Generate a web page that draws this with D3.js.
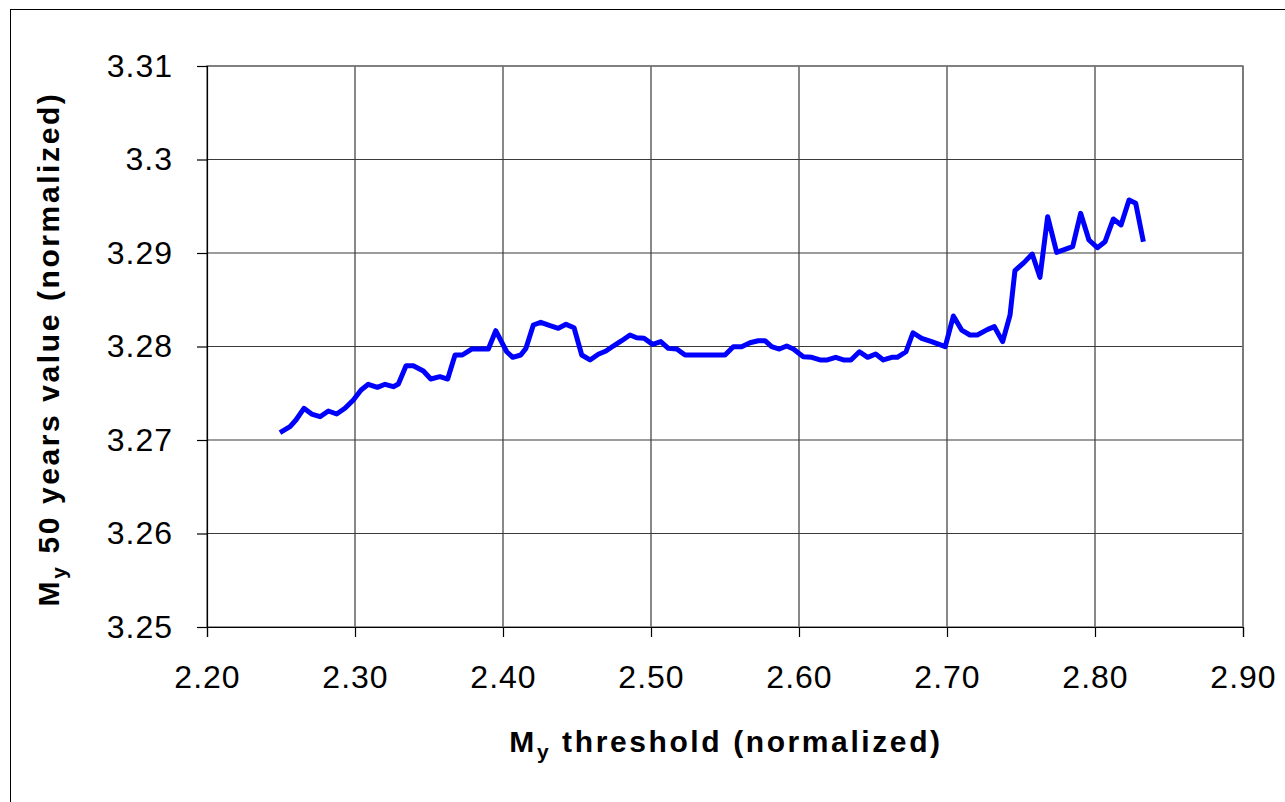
<!DOCTYPE html>
<html>
<head>
<meta charset="utf-8">
<script src="https://cdn.jsdelivr.net/npm/d3@7"></script>
<style>
  body { margin: 0; background: #fff; }
  text { font-family: "Liberation Sans", Arial, sans-serif; }
</style>
</head>
<body>
<script>
// data
const thresholds = [2.2493, 2.2561, 2.2601, 2.2655, 2.2707, 2.2764, 2.2820, 2.2876, 2.2932, 2.2989,
  2.3041, 2.3090, 2.3151, 2.3203, 2.3259, 2.3293, 2.3345, 2.3394, 2.3462, 2.3512,
  2.3574, 2.3626, 2.3676, 2.3725, 2.3788, 2.3901, 2.3951, 2.4025, 2.4066, 2.4120,
  2.4155, 2.4205, 2.4255, 2.4318, 2.4374, 2.4426, 2.4480, 2.4532, 2.4588, 2.4644,
  2.4696, 2.4745, 2.4802, 2.4858, 2.4903, 2.4953, 2.5011, 2.5066, 2.5117, 2.5174,
  2.5230, 2.5500, 2.5556, 2.5612, 2.5669, 2.5725, 2.5770, 2.5815, 2.5867, 2.5917,
  2.5962, 2.6029, 2.6086, 2.6142, 2.6191, 2.6248, 2.6300, 2.6351, 2.6408, 2.6464,
  2.6518, 2.6570, 2.6626, 2.6664, 2.6723, 2.6770, 2.6829, 2.6896, 2.6988, 2.7043,
  2.7099, 2.7155, 2.7205, 2.7272, 2.7320, 2.7376, 2.7426, 2.7459, 2.7520, 2.7576,
  2.7628, 2.7680, 2.7741, 2.7797, 2.7849, 2.7903, 2.7959, 2.8016, 2.8068, 2.8124,
  2.8176, 2.8230, 2.8275, 2.8327];
const values50 = [3.27078, 3.27142, 3.27214, 3.27339, 3.27278, 3.27249, 3.27310, 3.27278, 3.27339, 3.27428,
  3.27535, 3.27596, 3.27563, 3.27596, 3.27570, 3.27599, 3.27795, 3.27795, 3.27738, 3.27652,
  3.27677, 3.27652, 3.27909, 3.27909, 3.27973, 3.27973, 3.28169, 3.27944, 3.27884, 3.27909,
  3.27980, 3.28230, 3.28259, 3.28223, 3.28195, 3.28237, 3.28201, 3.27909, 3.27856, 3.27917,
  3.27952, 3.28005, 3.28062, 3.28123, 3.28094, 3.28088, 3.28023, 3.28052, 3.27980, 3.27973,
  3.27909, 3.27909, 3.27998, 3.27998, 3.28040, 3.28062, 3.28062, 3.27998, 3.27973, 3.28005,
  3.27973, 3.27891, 3.27884, 3.27856, 3.27856, 3.27884, 3.27856, 3.27856, 3.27944, 3.27884,
  3.27920, 3.27856, 3.27884, 3.27884, 3.27944, 3.28147, 3.28088, 3.28052, 3.27998, 3.28326,
  3.28176, 3.28123, 3.28123, 3.28180, 3.28212, 3.28052, 3.28337, 3.28811, 3.28897, 3.28989,
  3.28740, 3.29388, 3.29007, 3.29039, 3.29067, 3.29424, 3.29139, 3.29057, 3.29121, 3.29364,
  3.29300, 3.29567, 3.29532, 3.29121];
const xTicks = [2.2, 2.3, 2.4, 2.5, 2.6, 2.7, 2.8, 2.9];
const yTicks = [3.25, 3.26, 3.27, 3.28, 3.29, 3.30, 3.31];
const yTickLabels = ["3.25", "3.26", "3.27", "3.28", "3.29", "3.3", "3.31"];

const width = 1285, height = 802;
const plotL = 207, plotR = 1243, plotT = 66, plotB = 627;

const svg = d3.select("body").append("svg")
  .attr("width", width)
  .attr("height", height);

// outer frame
svg.append("rect")
  .attr("x", 10.5).attr("y", 9.5)
  .attr("width", 1290).attr("height", 800)
  .attr("fill", "none").attr("stroke", "#000").attr("stroke-width", 1);

const x = d3.scaleLinear().domain([2.2, 2.9]).range([plotL, plotR]);
const y = d3.scaleLinear().domain([3.25, 3.31]).range([plotB, plotT]);

// grid
svg.append("g").selectAll("line").data(xTicks.slice(1)).enter().append("line")
  .attr("x1", d => x(d)).attr("x2", d => x(d))
  .attr("y1", plotT).attr("y2", plotB)
  .attr("stroke", "#3a3a3a").attr("stroke-width", 1.2);
svg.append("g").selectAll("line").data(yTicks.slice(1)).enter().append("line")
  .attr("x1", plotL).attr("x2", plotR)
  .attr("y1", d => y(d)).attr("y2", d => y(d))
  .attr("stroke", "#3a3a3a").attr("stroke-width", 1.2);

// plot border
svg.append("rect")
  .attr("x", plotL).attr("y", plotT)
  .attr("width", plotR - plotL).attr("height", plotB - plotT)
  .attr("fill", "none").attr("stroke", "#777").attr("stroke-width", 1.5);

// axes
const xAxis = svg.append("g")
  .attr("transform", `translate(0,${plotB})`)
  .call(d3.axisBottom(x).tickValues(xTicks).tickFormat(d3.format(".2f")).tickSize(10));
const yAxis = svg.append("g")
  .attr("transform", `translate(${plotL},0)`)
  .call(d3.axisLeft(y).tickValues(yTicks).tickFormat((d, i) => yTickLabels[i]).tickSize(10).tickPadding(24));

[xAxis, yAxis].forEach(g => {
  g.select(".domain").attr("stroke", "#000").attr("stroke-width", 1.2);
  g.selectAll(".tick line").attr("stroke", "#000").attr("stroke-width", 1.2);
  g.selectAll(".tick text")
    .attr("fill", "#000")
    .style("font-size", "32px")
    .style("letter-spacing", "1px")
    .style("font-family", "'Liberation Sans', Arial, sans-serif");
});
xAxis.selectAll(".tick text").attr("y", 61).attr("dy", 0);

// data line
const line = d3.line()
  .x((d, i) => x(thresholds[i]))
  .y(d => y(d));

svg.append("path")
  .datum(values50)
  .attr("d", line)
  .attr("fill", "none")
  .attr("stroke", "#0000ff")
  .attr("stroke-width", 5)
  .attr("stroke-linejoin", "round");

// axis titles
const xt = svg.append("text")
  .attr("x", 726).attr("y", 752)
  .attr("text-anchor", "middle")
  .style("font-size", "30px").style("font-weight", "bold")
  .style("letter-spacing", "2.6px");
xt.append("tspan").text("M");
xt.append("tspan").attr("dy", 7).style("font-size", "21px").text("y");
xt.append("tspan").attr("dy", -7).text(" threshold (normalized)");

const yt = svg.append("text")
  .attr("transform", "translate(59,349) rotate(-90)")
  .attr("text-anchor", "middle")
  .style("font-size", "30px").style("font-weight", "bold")
  .style("letter-spacing", "2.6px");
yt.append("tspan").text("M");
yt.append("tspan").attr("dy", 7).style("font-size", "21px").text("y");
yt.append("tspan").attr("dy", -7).text(" 50 years value (normalized)");
</script>
</body>
</html>
